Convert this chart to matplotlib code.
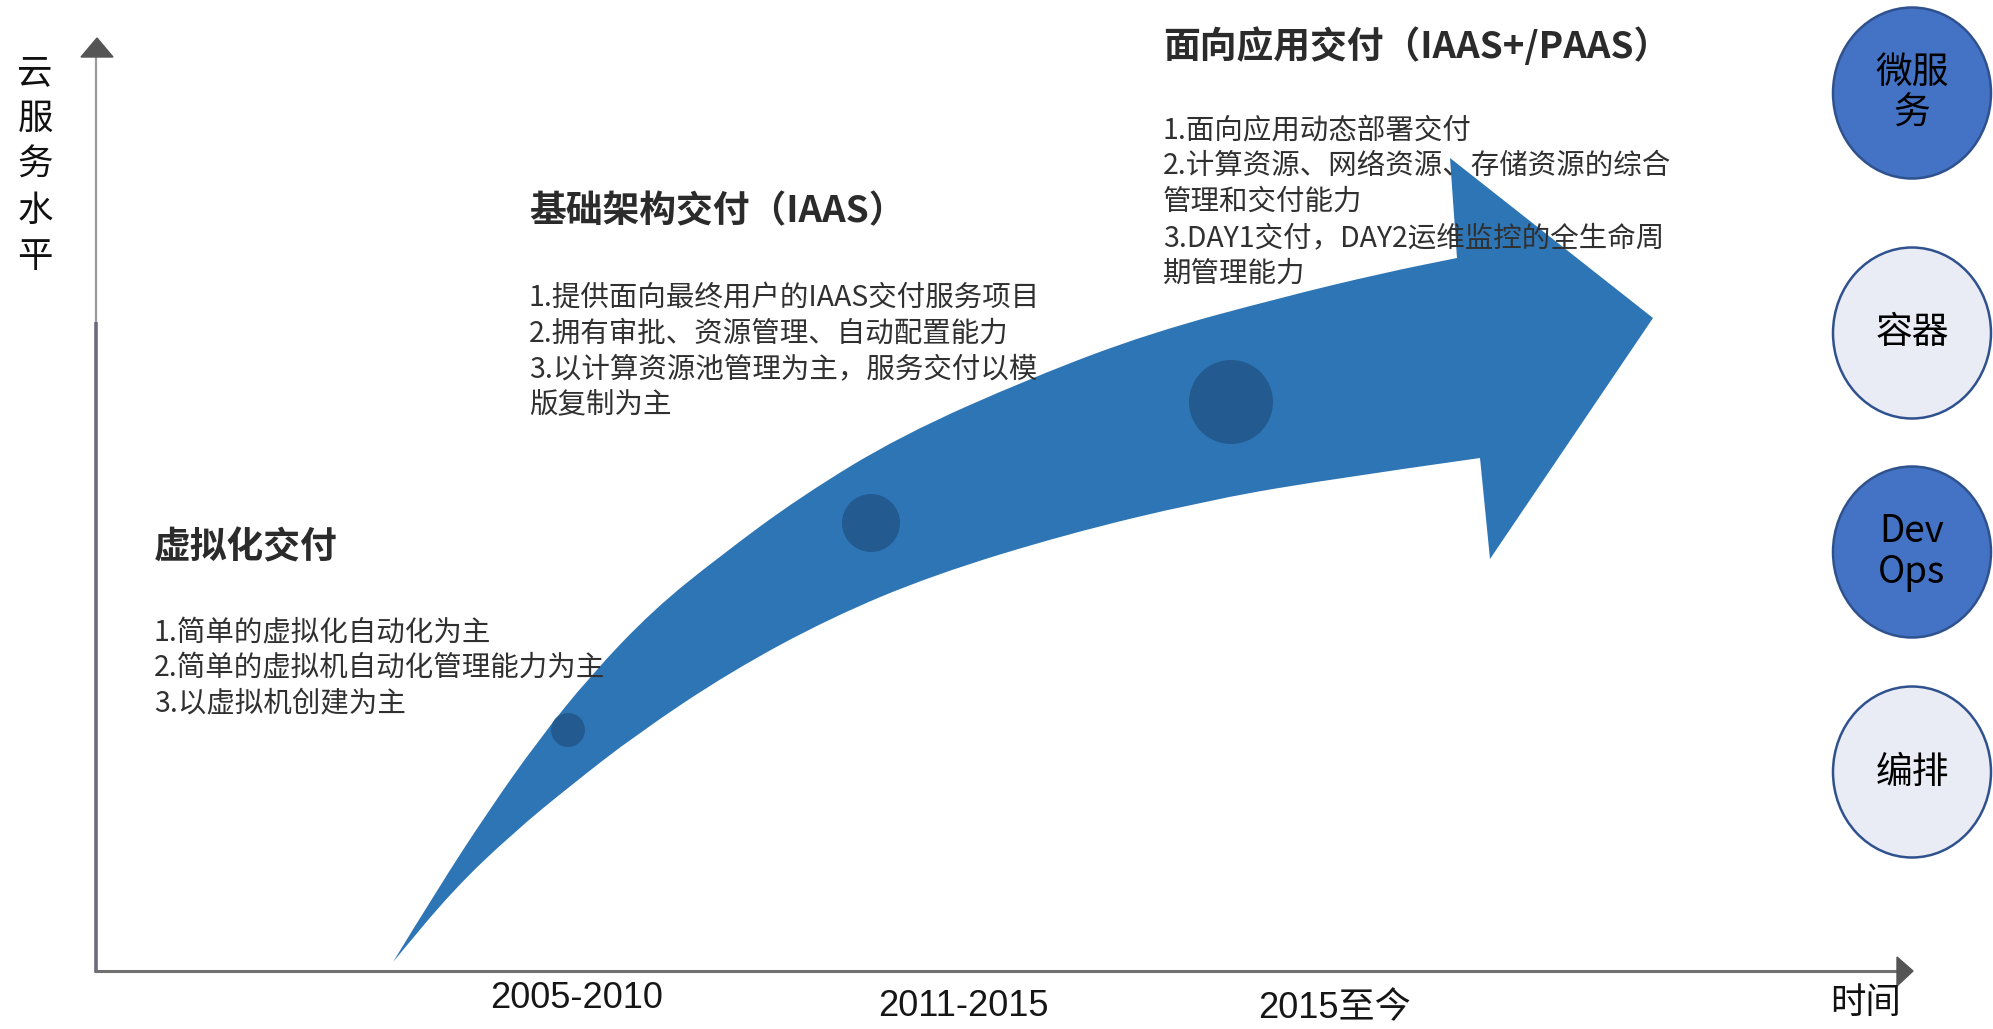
import matplotlib.pyplot as plt
from matplotlib.patches import Ellipse, Polygon, PathPatch, Circle
from matplotlib.path import Path

plt.rcParams['font.family'] = ['Noto Sans CJK SC', 'DejaVu Sans']

# content
y_label = "云服务水平"
x_label = "时间"
periods = ["2005-2010", "2011-2015", "2015至今"]
stage_titles = ["虚拟化交付", "基础架构交付（IAAS）", "面向应用交付（IAAS+/PAAS）"]
stage_lines = [
    ["1.简单的虚拟化自动化为主",
     "2.简单的虚拟机自动化管理能力为主",
     "3.以虚拟机创建为主"],
    ["1.提供面向最终用户的IAAS交付服务项目",
     "2.拥有审批、资源管理、自动配置能力",
     "3.以计算资源池管理为主，服务交付以模",
     "版复制为主"],
    ["1.面向应用动态部署交付",
     "2.计算资源、网络资源、存储资源的综合",
     "管理和交付能力",
     "3.DAY1交付，DAY2运维监控的全生命周",
     "期管理能力"],
]
tags = ["微服\n务", "容器", "Dev\nOps", "编排"]
tag_dark = [True, False, True, False]

# layout (pixel coords of a 1993x1029 canvas)
W, H = 1993, 1029
period_pos = [(577, 998), (963, 1006), (1335, 1009)]
title_pos = [(154, 548), (529, 212), (1163, 47)]
first_line_y = [633, 298, 130]
line_step = [35, 35.5, 36]
tag_y = [93, 333, 552, 772]
dot_pos = [(568, 730, 17), (871, 523, 29), (1231, 402, 42)]

# big curved arrow outline
upper_edge = [(393, 962), (437, 890), (487, 813), (537, 742), (590, 676), (653, 610),
              (720, 556), (800, 497), (900, 436), (1033, 377), (1150, 333),
              (1283, 297), (1383, 273), (1457, 258)]
head = [(1450, 158), (1653, 318), (1490, 559)]
lower_edge = [(1480, 458), (1317, 481), (1200, 502), (1067, 534), (933, 575),
              (830, 618), (730, 672), (637, 734), (570, 786), (513, 833),
              (453, 890), (393, 962)]

arrow_blue = "#2E75B6"
dot_blue = "#235A8F"


def smooth(pts, first_code):
    verts = [pts[0]]
    codes = [first_code]
    for i in range(1, len(pts) - 1):
        mid = ((pts[i][0] + pts[i + 1][0]) / 2, (pts[i][1] + pts[i + 1][1]) / 2)
        verts += [pts[i], mid]
        codes += [Path.CURVE3, Path.CURVE3]
    verts.append(pts[-1])
    codes.append(Path.LINETO)
    return verts, codes


fig = plt.figure(figsize=(W / 100, H / 100), dpi=100)
ax = fig.add_axes([0, 0, 1, 1])
ax.set_xlim(0, W)
ax.set_ylim(H, 0)
ax.axis('off')

# arrow body
v1, c1 = smooth(upper_edge, Path.MOVETO)
v2, c2 = smooth(lower_edge, Path.LINETO)
verts = v1 + head + v2 + [upper_edge[0]]
codes = c1 + [Path.LINETO] * len(head) + c2 + [Path.CLOSEPOLY]
ax.add_patch(PathPatch(Path(verts, codes), facecolor=arrow_blue, edgecolor='none', zorder=1))

for x, y, r in dot_pos:
    ax.add_patch(Circle((x, y), r, facecolor=dot_blue, edgecolor='none', zorder=2))

# axes
ax.plot([96, 96], [55, 322], color="#9a9a9a", lw=1.6, zorder=2, solid_capstyle='butt')
ax.plot([96, 96], [322, 972], color="#6b6b7e", lw=2.6, zorder=2, solid_capstyle='butt')
ax.add_patch(Polygon([(81, 57), (113, 57), (97, 38)], closed=True, color="#555555", zorder=2))
ax.plot([94, 1898], [971, 971], color="#707070", lw=2.2, zorder=2, solid_capstyle='butt')
ax.add_patch(Polygon([(1897, 957), (1897, 986), (1913, 971)], closed=True, color="#555555", zorder=2))

# y label, stacked characters
for i, ch in enumerate(y_label):
    ax.text(35, 73 + i * 46, ch, fontsize=25.5, ha='center', va='center', color="#111111")
ax.text(1866, 1003, x_label, fontsize=25.5, ha='center', va='center', color="#111111")

for (x, y), p in zip(period_pos, periods):
    ax.text(x, y, p, fontsize=26, ha='center', va='center', color="#161616",
            family=['Liberation Sans', 'Noto Sans CJK SC'])

# stages
for i, title in enumerate(stage_titles):
    x, y = title_pos[i]
    ax.text(x, y, title, fontsize=26.5, fontweight='bold', ha='left', va='center',
            color="#2b2b2b", zorder=3)
    for j, line in enumerate(stage_lines[i]):
        ax.text(x, first_line_y[i] + j * line_step[i], line, fontsize=20.5, ha='left',
                va='center', color="#303030", zorder=3)

# tag circles on the right
for y, label, dark in zip(tag_y, tags, tag_dark):
    face = "#4472C4" if dark else "#E9EBF5"
    ax.add_patch(Ellipse((1912, y), 158, 171, facecolor=face, edgecolor="#2F528F",
                         lw=1.8, zorder=2))
    ax.text(1912, y, label, fontsize=26.5, ha='center', va='center', color="black",
            linespacing=1.05, zorder=3)

fig.savefig("out.png", dpi=100)
